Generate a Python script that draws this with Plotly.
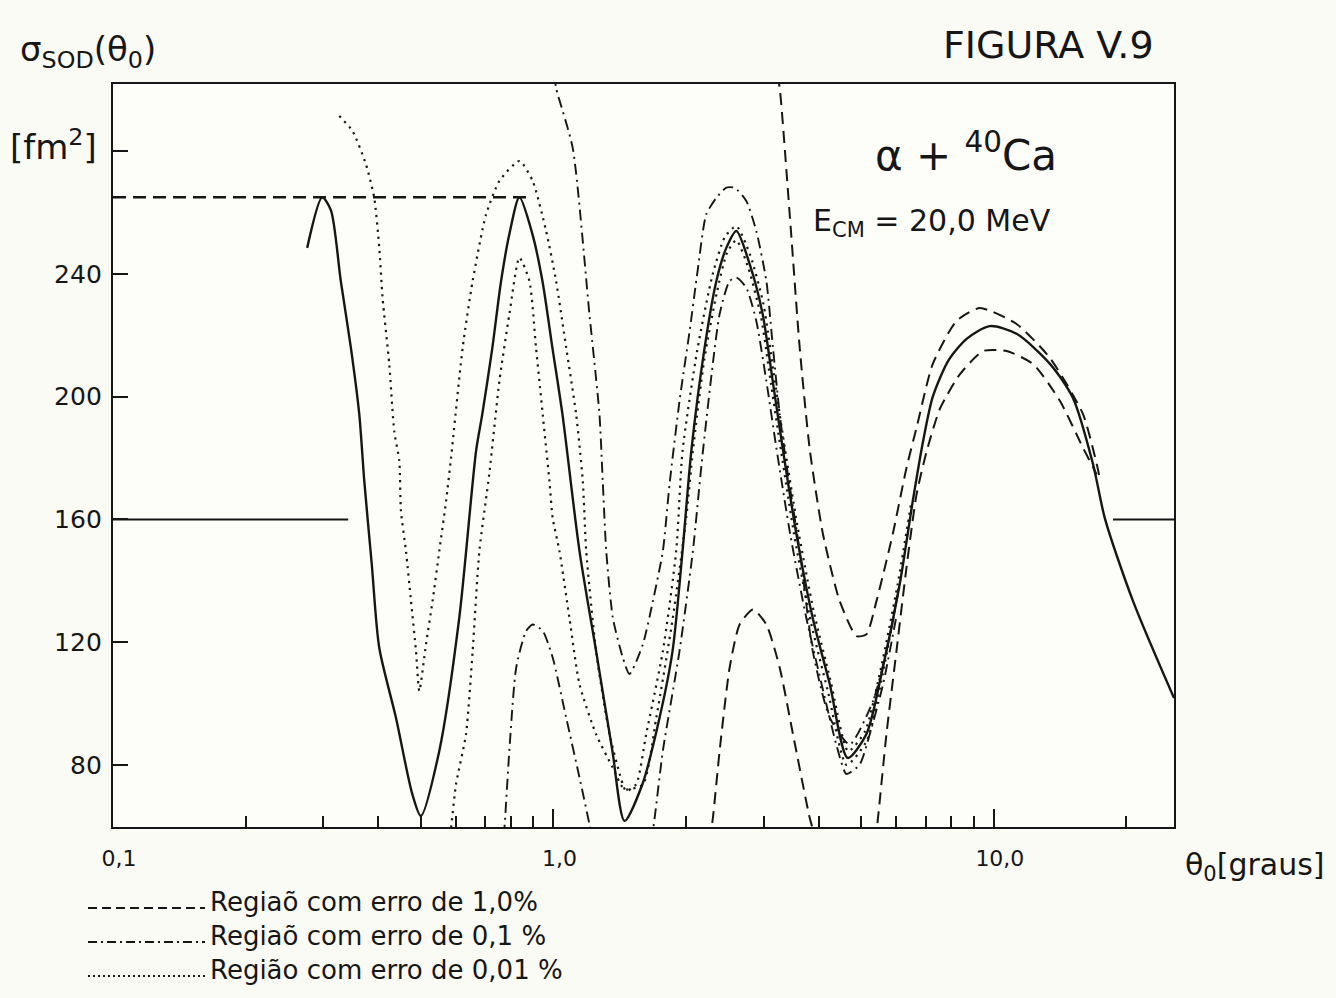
import plotly.graph_objects as go

# ---- theta_0 [graus] vs sigma_SOD [fm^2] ----
theta_solid = [0.276, 0.2985, 0.3125, 0.329, 0.3468, 0.3623, 0.372, 0.3868, 0.4023,
               0.439, 0.478, 0.500, 0.5506, 0.6113, 0.6673, 0.6896, 0.7266, 0.7606, 0.7943,
               0.837, 0.896, 0.9441, 0.9947, 1.048, 1.146, 1.25, 1.361, 1.45,
               1.593, 1.741, 1.864, 1.964, 2.056, 2.204, 2.344, 2.469, 2.602, 2.79,
               2.985, 3.147, 3.315, 3.561, 3.879, 4.24, 4.658, 5.137, 5.594, 6.114,
               6.545, 6.897, 7.267, 7.9, 8.7, 9.793, 11.26, 13.41, 15.12, 16.79,
               17.88, 20.7, 25.65]
sigma_solid = [248.5, 265.0, 260.7, 237.7, 216.0, 194.4, 172.5, 145.5, 118.2,
               95.4, 70.6, 63.4, 84.6, 128.0, 182.3, 194.4, 215.9, 237.7, 253.0,
               265.0, 253.0, 237.7, 215.9, 194.4, 149.7, 117.1, 84.6, 61.8,
               73.8, 95.3, 117.1, 149.7, 182.3, 215.9, 237.7, 248.5, 254.0, 243.2,
               227.0, 205.1, 183.3, 155.3, 127.9, 106.4, 82.3, 90.1, 111.6, 139.0,
               166.0, 185.0, 200.0, 212.0, 219.0, 223.0, 220.5, 210.7, 199.6, 178.1,
               160.2, 133.4, 101.8]

# reference levels
theta_peak_ref = [0.1, 0.873]
sigma_peak_ref = [265.0, 265.0]
theta_level_left = [0.1, 0.342]
theta_level_right = [18.64, 25.65]
sigma_level = [160.0, 160.0]

# 1,0 % region (dashed)
theta_e1_up = [3.22, 3.264, 3.439, 3.624, 3.818, 4.093, 4.467, 4.875, 5.137, 5.413, 5.895,
               6.332, 6.672, 7.267, 8.228, 9.293, 11.26, 13.41, 15.93, 17.12, 17.41]
sigma_e1_up = [305.0, 300.6, 259.5, 215.9, 183.0, 155.2, 133.4, 122.0, 122.6, 133.4, 155.3,
               176.8, 189.8, 210.7, 224.7, 228.9, 223.7, 212.6, 194.4, 178.1, 173.2]
theta_e1_low = [5.35, 5.413, 5.703, 6.009, 6.332, 6.672, 7.031, 7.539, 8.37, 9.458, 10.69,
                12.29, 14.13, 15.93, 17.12]
sigma_e1_low = [55.0, 58.5, 90.1, 117.1, 144.2, 168.0, 182.0, 196.0, 207.3, 214.9, 214.9,
                210.6, 198.6, 183.4, 174.7]
theta_e1_bump = [2.26, 2.302, 2.384, 2.512, 2.647, 2.838, 3.043, 3.264, 3.499, 3.818, 3.92]
sigma_e1_bump = [55.0, 62.8, 84.6, 111.7, 125.8, 130.7, 125.8, 111.7, 90.0, 62.8, 57.0]

# 0,1 % region (dash-dot)
theta_e2_up = [1.005, 1.014, 1.106, 1.207, 1.272, 1.294, 1.318, 1.364, 1.437, 1.488,
               1.596, 1.682, 1.772, 1.835, 1.933, 2.038, 2.125, 2.223, 2.344, 2.469, 2.579,
               2.741, 2.888, 3.044, 3.151, 3.264, 3.38, 3.624, 3.88, 4.24, 4.707, 5.318,
               5.703, 6.114]
sigma_e2_up = [305.0, 300.6, 281.1, 226.9, 194.3, 172.5, 149.7, 128.0, 115.0, 109.6,
               119.3, 133.4, 149.7, 171.5, 198.6, 221.4, 241.0, 259.4, 264.8, 268.1, 268.1,
               263.8, 254.0, 237.7, 216.0, 194.3, 178.0, 149.7, 117.1, 95.4, 86.7, 100.9,
               117.1, 138.9]
theta_e2_low = [1.66, 1.682, 1.772, 1.933, 2.073, 2.185, 2.384, 2.512, 2.602, 2.741, 2.888,
                3.044, 3.207, 3.45, 3.75, 4.1, 4.4, 4.627, 4.961, 5.226, 5.603, 6.0]
sigma_e2_low = [55.0, 58.5, 84.6, 117.1, 149.7, 182.3, 226.9, 237.7, 238.8, 235.5, 224.7,
                205.1, 183.4, 155.0, 128.0, 104.0, 86.0, 77.1, 80.2, 90.0, 106.3, 128.0]
theta_e2_bump = [0.77, 0.774, 0.794, 0.823, 0.867, 0.897, 0.9455, 0.996, 1.069, 1.146, 1.207, 1.22]
sigma_e2_bump = [57.0, 59.5, 84.6, 111.7, 123.7, 125.8, 123.7, 115.0, 95.4, 75.9, 60.7, 57.0]

# 0,01 % region (dotted)
theta_e3_up = [0.3264, 0.3498, 0.3753, 0.3919, 0.4023, 0.4093, 0.4239, 0.435, 0.4467, 0.4506,
               0.4626, 0.4749, 0.4875, 0.496, 0.5136, 0.5316, 0.5506, 0.5705, 0.5855, 0.6222,
               0.6555, 0.7031, 0.7539, 0.837, 0.897, 0.9625, 1.014, 1.069, 1.126, 1.166,
               1.187, 1.25, 1.341, 1.437, 1.463, 1.541, 1.624, 1.772, 1.9, 1.964,
               2.12, 2.3, 2.45, 2.602, 2.8, 3.0, 3.16, 3.33, 3.58, 3.9,
               4.25, 4.67, 5.1, 5.55, 6.05, 6.5]
sigma_e3_up = [291.5, 286.6, 275.7, 264.8, 248.6, 232.3, 210.6, 188.8, 179.1, 162.8,
               149.7, 133.4, 117.1, 104.1, 119.3, 133.4, 149.7, 166.0, 180.1, 216.0,
               237.7, 259.4, 270.3, 276.8, 270.3, 254.0, 237.7, 216.0, 194.3, 172.5,
               149.7, 117.1, 90.0, 73.7, 71.5, 73.7, 90.0, 117.1, 149.7, 182.3,
               215.0, 240.0, 252.0, 255.6, 246.0, 230.0, 208.0, 186.0, 158.0, 130.0,
               108.0, 84.5, 91.0, 112.0, 139.0, 166.0]
theta_e3_low = [0.58, 0.5855, 0.6009, 0.6331, 0.6555, 0.6789, 0.7153, 0.7539, 0.7943, 0.837,
                0.882, 0.913, 0.9455, 0.9793, 0.996, 1.032, 1.087, 1.146, 1.25, 1.364,
                1.45, 1.596, 1.712, 1.867, 2.002, 2.073, 2.2, 2.35, 2.48, 2.602,
                2.77, 2.96, 3.12, 3.29, 3.53, 3.85, 4.2, 4.63, 5.15, 5.6, 6.1]
sigma_e3_low = [55.0, 59.5, 73.7, 90.0, 117.1, 149.7, 175.0, 205.1, 226.9, 245.3,
                237.7, 216.0, 194.3, 172.5, 160.5, 149.7, 128.0, 106.3, 90.0, 79.1,
                72.1, 73.7, 95.4, 128.0, 160.6, 182.3, 212.0, 234.0, 247.0, 251.0,
                242.0, 226.0, 204.0, 182.0, 154.0, 126.0, 104.0, 80.0, 88.0, 110.0, 139.0]

# axis ticks
x_major = [0.1, 1.0, 10.0]
x_major_text = ["0,1", "1,0", "10,0"]
x_minor = [0.2, 0.3, 0.4, 0.5, 0.6, 0.7, 0.8, 0.9, 2, 3, 4, 5, 6, 7, 8, 9, 20]
y_major = [80, 120, 160, 200, 240]
y_minor = [280]

# legend rows
legend_labels = ["Regiaõ com erro de 1,0%", "Regiaõ com erro de 0,1 %", "Região com erro de 0,01 %"]

INK = "#161616"
DASH = "12px,7px"
DASHDOT = "11px,5px,2px,5px"
DOT = "2.2px,5px"
FONT = "DejaVu Sans"

fig = go.Figure()


def add_curve(x, y, dash="solid", width=2.0, shape="spline", smoothing=0.6):
    fig.add_trace(go.Scatter(
        x=x, y=y, mode="lines",
        line=dict(color=INK, width=width, dash=dash, shape=shape, smoothing=smoothing),
        showlegend=False, hoverinfo="skip"))


add_curve(theta_peak_ref, sigma_peak_ref, "13px,7px", 2.4, "linear")
add_curve(theta_level_left, sigma_level, "solid", 2.0, "linear")
add_curve(theta_level_right, sigma_level, "solid", 2.0, "linear")

add_curve(theta_e1_up, sigma_e1_up, DASH, 2.0)
add_curve(theta_e1_low, sigma_e1_low, DASH, 2.0)
add_curve(theta_e1_bump, sigma_e1_bump, DASH, 2.0)

add_curve(theta_e2_up, sigma_e2_up, DASHDOT, 1.9)
add_curve(theta_e2_low, sigma_e2_low, DASHDOT, 1.9)
add_curve(theta_e2_bump, sigma_e2_bump, DASHDOT, 1.9)

add_curve(theta_e3_up, sigma_e3_up, DOT, 2.2)
add_curve(theta_e3_low, sigma_e3_low, DOT, 2.2)

add_curve(theta_solid, sigma_solid, "solid", 2.4, smoothing=0.75)

# plot-area geometry in pixels (used to place free text in paper coordinates)
X0, X1, Y0, Y1 = 113, 1174, 84, 827


def xp(px):
    return (px - X0) / (X1 - X0)


def yp(py):
    return (Y1 - py) / (Y1 - Y0)


annotations = [
    dict(text="σ<sub>SOD</sub>(θ<sub>0</sub>)", x=xp(18), y=yp(52), xanchor="left", yanchor="middle",
         font=dict(size=34)),
    dict(text="[fm<sup>2</sup>]", x=xp(8), y=yp(145), xanchor="left", yanchor="middle",
         font=dict(size=34)),
    dict(text="FIGURA V.9", x=xp(1048), y=yp(45), xanchor="center", yanchor="middle",
         font=dict(size=38)),
    dict(text="α + <sup>40</sup>Ca", x=xp(966), y=yp(152), xanchor="center", yanchor="middle",
         font=dict(size=42)),
    dict(text="E<sub>CM</sub> = 20,0 MeV", x=xp(932), y=yp(222), xanchor="center", yanchor="middle",
         font=dict(size=30)),
    dict(text="θ<sub>0</sub>[graus]", x=xp(1183), y=yp(866), xanchor="left", yanchor="middle",
         font=dict(size=30)),
    # legend text block, one row per error region
    dict(text="<br>".join(legend_labels), x=xp(208), y=yp(936), xanchor="left", yanchor="middle",
         align="left", font=dict(size=26)),
]

legend_rows_py = [903, 937, 971]
legend_dashes = ["9px,5px", "9px,4px,2px,4px", "2px,3px"]
shapes = []
for py, dsh in zip(legend_rows_py, legend_dashes):
    shapes.append(dict(type="line", xref="paper", yref="paper",
                       x0=xp(88), x1=xp(205), y0=yp(py + 5), y1=yp(py + 5),
                       line=dict(color=INK, width=2.0, dash=dsh)))

for a in annotations:
    a.update(xref="paper", yref="paper", showarrow=False)
    a["font"].update(family=FONT, color=INK)

fig.update_layout(
    width=1336, height=998,
    margin=dict(l=X0, r=1336 - X1, t=Y0, b=998 - Y1),
    paper_bgcolor="#fbfbf5", plot_bgcolor="#fdfdfa",
    font=dict(family=FONT, color=INK),
    annotations=annotations, shapes=shapes,
    showlegend=False,
)

fig.update_xaxes(
    type="log", range=[-1.0, 1.409],
    tickvals=x_major, ticktext=x_major_text,
    ticks="inside", ticklen=18, tickwidth=2, tickcolor=INK,
    minor=dict(ticks="inside", ticklen=11, tickwidth=1.8, tickcolor=INK, tickvals=x_minor),
    tickfont=dict(size=22, family=FONT, color=INK), ticklabelstandoff=10, ticklabelshift=6,
    showline=True, mirror=True, linecolor=INK, linewidth=2.4,
    showgrid=False, zeroline=False,
)
fig.update_yaxes(
    range=[59.8, 301.9],
    tickvals=y_major, ticktext=[str(v) for v in y_major],
    ticks="inside", ticklen=15, tickwidth=2, tickcolor=INK,
    minor=dict(ticks="inside", ticklen=15, tickwidth=2, tickcolor=INK, tickvals=y_minor),
    tickfont=dict(size=25, family=FONT, color=INK), ticklabelstandoff=4,
    showline=True, mirror=True, linecolor=INK, linewidth=2.4,
    showgrid=False, zeroline=False,
)

fig.write_html("out.html")
